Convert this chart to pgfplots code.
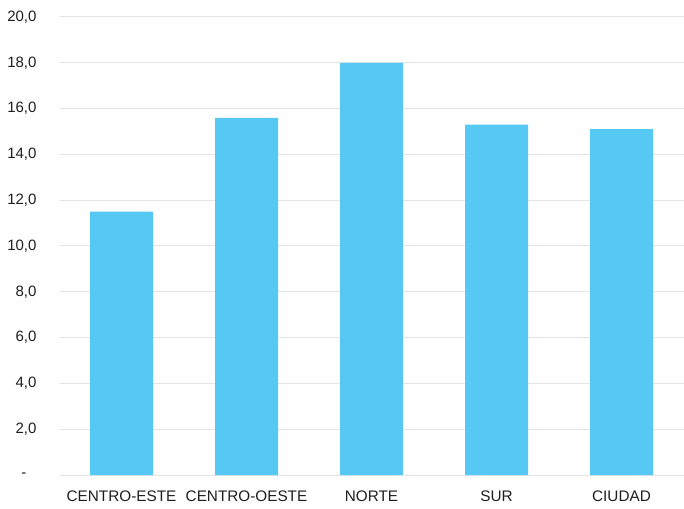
\documentclass[border=0pt]{standalone}
\usepackage{pgfplots}
\pgfplotsset{compat=1.18}
\usepackage{fontspec}
\setmainfont{Liberation Sans}
\definecolor{barblue}{RGB}{86,200,244}
\definecolor{gridgray}{RGB}{228,228,230}
\definecolor{txt}{RGB}{30,30,30}
\begin{document}
\begin{tikzpicture}
\path[use as bounding box] (-59pt,-33pt) rectangle (625pt,475pt);
\begin{axis}[
  at={(0,0)}, anchor=south west,
  scale only axis,
  width=625pt, height=458pt,
  xmin=-0.5, xmax=4.5,
  ymin=0, ymax=20,
  ybar, bar width=63pt,
  axis line style={draw=none},
  major tick length=0pt,
  ymajorgrids,
  grid style={gridgray, line width=1pt},
  xtick={0,1,2,3,4},
  xticklabels={CENTRO-ESTE,CENTRO-OESTE,NORTE,SUR,CIUDAD},
  ytick={0,2,4,6,8,10,12,14,16,18,20},
  yticklabels={{-\kern10pt\mbox{}},{2,0},{4,0},{6,0},{8,0},{10,0},{12,0},{14,0},{16,0},{18,0},{20,0}},
  yticklabel style={font=\fontsize{15}{17}\selectfont, text=txt, xshift=-19pt},
  xticklabel style={font=\fontsize{15.3}{17}\selectfont, text=txt, yshift=-12pt},
  clip=false,
]
\addplot[fill=barblue, draw=none] coordinates {(0,11.5) (1,15.6) (2,18.0) (3,15.3) (4,15.1)};
\end{axis}
\end{tikzpicture}
\end{document}
